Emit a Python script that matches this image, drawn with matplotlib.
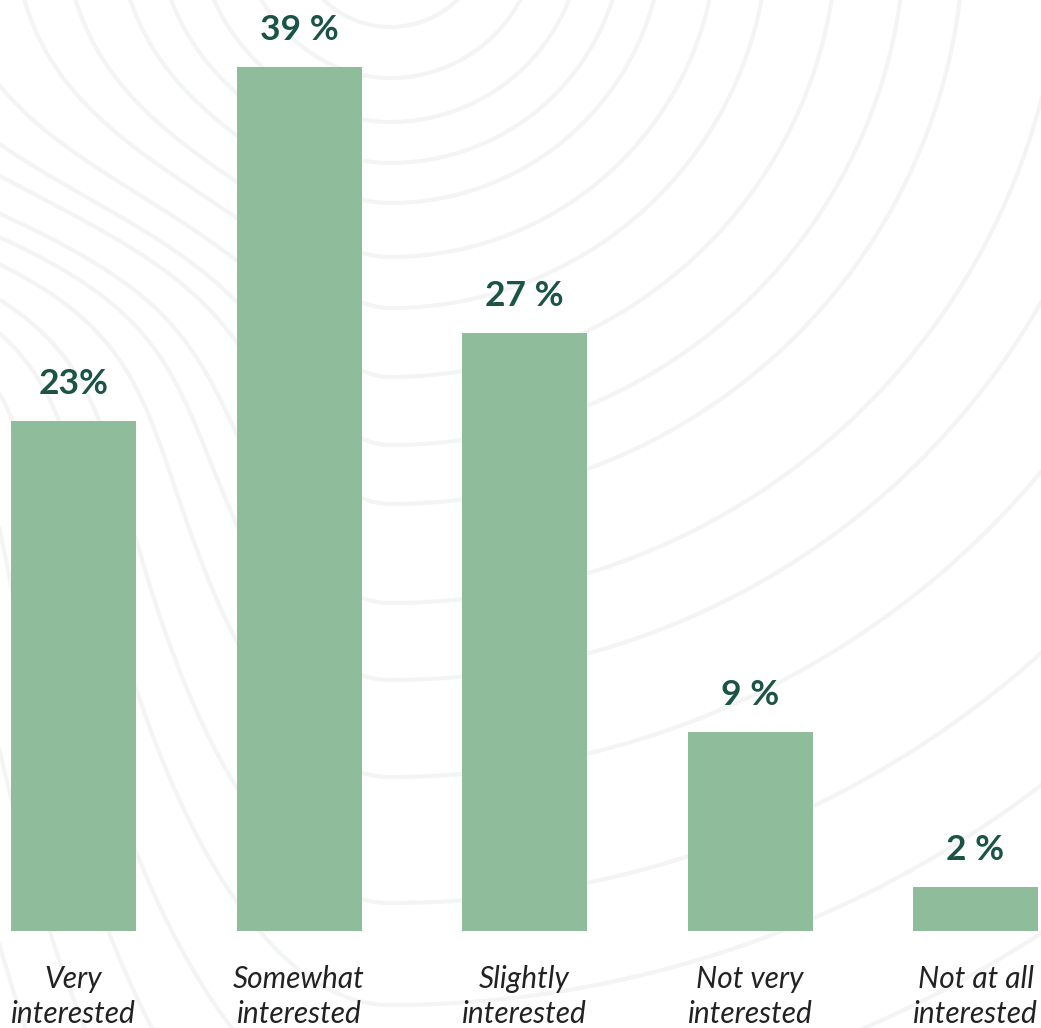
import numpy as np
import matplotlib
matplotlib.use("Agg")
import matplotlib.pyplot as plt

# Survey results: level of interest
categories = ["Very\ninterested", "Somewhat\ninterested", "Slightly\ninterested",
              "Not very\ninterested", "Not at all\ninterested"]
values = [23, 39, 27, 9, 2]
value_labels = ["23%", "39 %", "27 %", "9 %", "2 %"]

BAR_COLOR = "#8fbc9a"
VALUE_COLOR = "#1b5446"
CAT_COLOR = "#222222"
LINE_COLOR = "#f2f5f3"

W, H = 1041, 1028
fig = plt.figure(figsize=(W / 100, H / 100), dpi=100)
fig.patch.set_facecolor("white")

# Decorative topographic rings in the background (pixel space):
# near-circular rings around a point above the top edge, squeezed on the left.
bg = fig.add_axes([0, 0, 1, 1], zorder=0)
bg.set_xlim(0, W)
bg.set_ylim(H, 0)
bg.axis("off")
gx, gy = np.meshgrid(np.linspace(-60, W + 60, 900), np.linspace(-60, H + 60, 900))
cx, cy = 390.0, -70.0
dx = gx - cx
dy = gy - cy
squeeze = 1 + 2.0 / (1 + np.exp(-(gy - 265) / 55))
sx = np.where(dx < 0, squeeze, 1.0)
ring = np.sqrt((sx * dx) ** 2 + dy ** 2)
radii = [97, 148, 192, 233, 273, 327, 378, 447, 515, 574, 673, 750, 847,
         973, 1075, 1196, 1310, 1430, 1550]
bg.contour(gx, gy, ring, levels=radii, colors=LINE_COLOR, linewidths=3.0)

# Bar chart
ax = fig.add_axes([0, 0, 1, 1], zorder=1)
ax.patch.set_alpha(0)
px_per_unit = (931 - 67) / 39.0
ax.set_ylim(-(H - 931) / px_per_unit, 931 / px_per_unit)
step = 225.5
x0 = 73.5
ax.set_xlim(-x0 / step, (W - x0) / step)
ax.axis("off")

x = np.arange(len(categories))
ax.bar(x, values, width=125 / step, color=BAR_COLOR, zorder=2)

for xi, v, lab in zip(x, values, value_labels):
    ax.annotate(lab, xy=(xi, v), xytext=(0, 19.5), textcoords="offset points",
                ha="center", va="baseline", fontsize=25.5, fontweight="bold",
                family=["Lato", "DejaVu Sans"], color=VALUE_COLOR)

for xi, cat in zip(x, categories):
    ax.annotate(cat, xy=(xi, 0), xytext=(0, -24.5), textcoords="offset points",
                ha="center", va="top", fontsize=21.5, fontstyle="italic",
                family=["Lato", "DejaVu Sans"], color=CAT_COLOR, linespacing=1.32,
                annotation_clip=False)

fig.savefig("out.png", dpi=100, facecolor="white")
